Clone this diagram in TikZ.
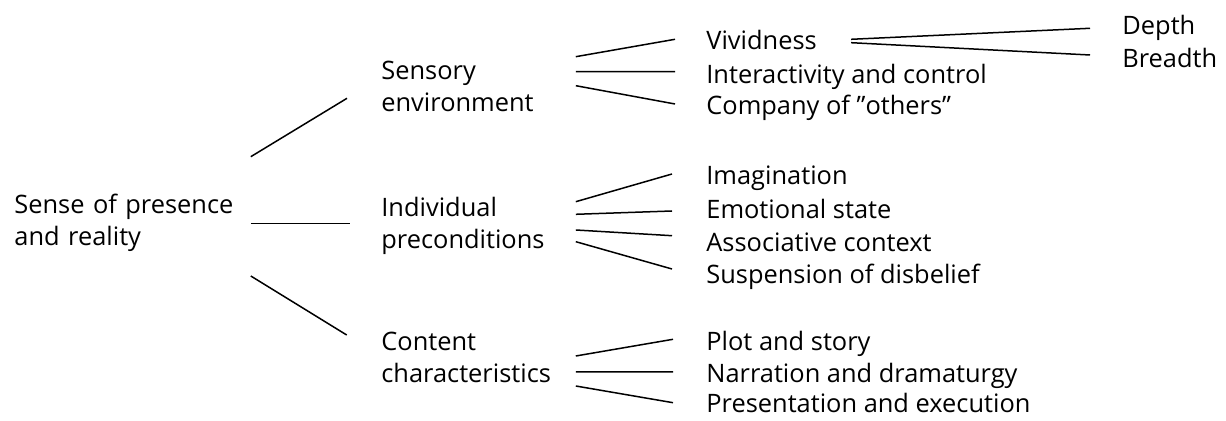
\documentclass[tikz,border=0pt]{standalone}
\usepackage{fontspec}
\setmainfont{Open Sans}
\usepackage{tikz}
\usetikzlibrary{positioning}

\begin{document}
\begin{tikzpicture}[x=0.5pt,y=-0.5pt]
  \tikzset{
  t/.style={anchor=base west,inner sep=0pt,font=\fontsize{12.7pt}{16pt}\selectfont},
  box/.style={t,text width=97pt},
  ln/.style={line width=0.75pt},
  }
  \useasboundingbox (0,0) rectangle (1226,421);
  % the words
  \node[t,text width=118pt] (r) at (14,214) {Sense of presence\\and reality};

  \node[box] (sen) at (381,80) {Sensory\\environment};
  \node[box] (ind) at (381,216.7) {Individual\\preconditions};
  \node[box] (con) at (381,350.3) {Content\\characteristics};

  \node[t] (viv) at (706,50) {Vividness};
  \node[t] (int) at (706,83.3) {Interactivity and control};
  \node[t] (com) at (706,115) {Company of ''others''};

  \node[t] (ima) at (706,185) {Imagination};
  \node[t] (emo) at (706,218.3) {Emotional state};
  \node[t] (ass) at (706,251.7) {Associative context};
  \node[t] (sus) at (706,283.3) {Suspension of disbelief};

  \node[t] (plo) at (706,350.3) {Plot and story};
  \node[t] (nar) at (706,382.7) {Narration and dramaturgy};
  \node[t] (pre) at (706,412.7) {Presentation and execution};

  \node[t] (dep) at (1122,35) {Depth};
  \node[t] (bre) at (1122,67.3) {Breadth};

  % the lines between the words
  \draw[ln] ([yshift=28.65pt]r.base east) -- ([xshift=-17pt,yshift=-9.15pt]sen.base west);
  \draw[ln] ([yshift=-4.65pt]r.base east) -- ([xshift=-15.5pt,yshift=-3.3pt]ind.base west);
  \draw[ln] ([yshift=-31pt]r.base east) -- ([xshift=-17.15pt,yshift=7.65pt]con.base west);

  \draw[ln] ([yshift=11.65pt]sen.base east) -- ([xshift=-15.5pt,yshift=5.35pt]viv.base west);
  \draw[ln] ([yshift=4.15pt]sen.base east) -- ([xshift=-15.5pt,yshift=5.8pt]int.base west);
  \draw[ln] ([yshift=-2.85pt]sen.base east) -- ([xshift=-15.5pt,yshift=5.5pt]com.base west);

  \draw[ln] ([yshift=7.5pt]ind.base east) -- ([xshift=-17pt,yshift=5.5pt]ima.base west);
  \draw[ln] ([yshift=1.2pt]ind.base east) -- ([xshift=-17pt,yshift=3.65pt]emo.base west);
  \draw[ln] ([yshift=-6.65pt]ind.base east) -- ([xshift=-17pt,yshift=8pt]ass.base west);
  \draw[ln] ([yshift=-12.5pt]ind.base east) -- ([xshift=-17pt,yshift=7.15pt]sus.base west);

  \draw[ln] ([yshift=-2.85pt]con.base east) -- ([xshift=-16.5pt,yshift=5.5pt]plo.base west);
  \draw[ln] ([yshift=-10.85pt]con.base east) -- ([xshift=-16.5pt,yshift=5.35pt]nar.base west);
  \draw[ln] ([yshift=-17.85pt]con.base east) -- ([xshift=-16.5pt,yshift=5pt]pre.base west);

  \draw[ln] ([xshift=17pt,yshift=5.35pt]viv.base east) -- ([xshift=-16pt,yshift=3.35pt]dep.base west);
  \draw[ln] ([xshift=17pt,yshift=3.65pt]viv.base east) -- ([xshift=-16pt,yshift=6.15pt]bre.base west);
\end{tikzpicture}
\end{document}
